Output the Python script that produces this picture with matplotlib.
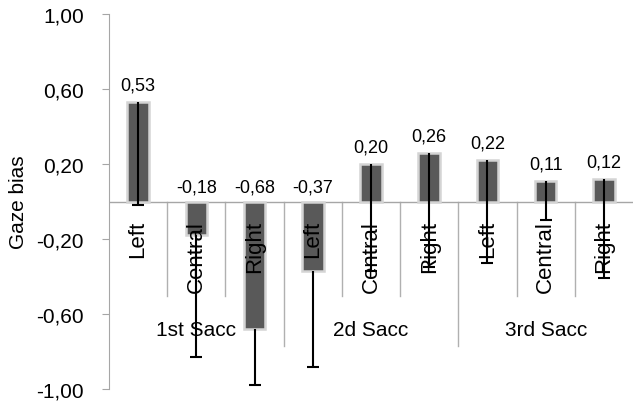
import matplotlib
matplotlib.use("Agg")
import matplotlib.pyplot as plt
from matplotlib.ticker import FuncFormatter
import matplotlib.transforms as mtransforms

plt.rcParams['font.family'] = ['Liberation Sans', 'DejaVu Sans']

groups = ["1st Sacc", "2d Sacc", "3rd Sacc"]
conditions = ["Left", "Central", "Right"]
values = [0.53, -0.18, -0.68, -0.37, 0.20, 0.26, 0.22, 0.11, 0.12]
err_minus = [0.55, 0.65, 0.30, 0.51, 0.57, 0.61, 0.55, 0.21, 0.53]
yticks = [1.0, 0.6, 0.2, -0.2, -0.6, -1.0]

fig = plt.figure(figsize=(6.33, 4.06), dpi=100)
ax = fig.add_axes([109/633, 1-390/406, 1-109/633, 375/406])

n = len(values)
x = list(range(n))
bar_color = "#595959"
grid_gray = "#a6a6a6"

ax.bar(x, values, width=0.37, color=bar_color, edgecolor="#d4d4d4", linewidth=1.8, zorder=3)
lower = [v - e for v, e in zip(values, err_minus)]
ax.vlines(x, lower, values, colors="black", lw=1.5, zorder=5)
ax.plot(x, lower, linestyle="none", marker="_", markersize=8, markeredgewidth=1.5,
        color="black", zorder=5)

ax.set_xlim(-0.5, n - 0.5)
ax.set_ylim(-1.0, 1.0)
ax.set_yticks(yticks)
ax.yaxis.set_major_formatter(FuncFormatter(lambda v, p: f"{v:.2f}".replace(".", ",")))
ax.tick_params(axis="y", labelsize=15, length=5, color=grid_gray, pad=13, labelcolor="black")
ax.set_xticks([])
for s in ["top", "right", "bottom"]:
    ax.spines[s].set_visible(False)
ax.spines["left"].set_color(grid_gray)
ax.set_ylabel("Gaze bias", fontsize=15, labelpad=6)

# zero line
ax.axhline(0, color=grid_gray, lw=1, zorder=2)

# separators
for i in range(1, n):
    if i % 3 == 0:
        ax.plot([i - 0.5, i - 0.5], [0, -0.77], color="#b0b0b0", lw=1, zorder=1)
    else:
        ax.plot([i - 0.5, i - 0.5], [0, -0.505], color="#b0b0b0", lw=1, zorder=1)

# value labels
for xi, v in zip(x, values):
    lab = f"{v:.2f}".replace(".", ",")
    if v >= 0:
        tr = ax.transData + mtransforms.ScaledTranslation(0, 9/72, fig.dpi_scale_trans)
        ax.text(xi, v, lab, ha="center", va="baseline", fontsize=13, transform=tr, zorder=6)
    else:
        tr = ax.transData + mtransforms.ScaledTranslation(0, 7/72, fig.dpi_scale_trans)
        ax.text(xi, 0, lab, ha="center", va="baseline", fontsize=13, transform=tr, zorder=6)

# category labels
for xi in x:
    ax.text(xi, -0.1, conditions[xi % 3], rotation=90, ha="center", va="top",
            fontsize=16, zorder=4)

# group labels
for gi, g in enumerate(groups):
    ax.text(gi * 3 + 1, -0.68, g, ha="center", va="center", fontsize=15, zorder=4)

fig.savefig("out.png", dpi=100)
